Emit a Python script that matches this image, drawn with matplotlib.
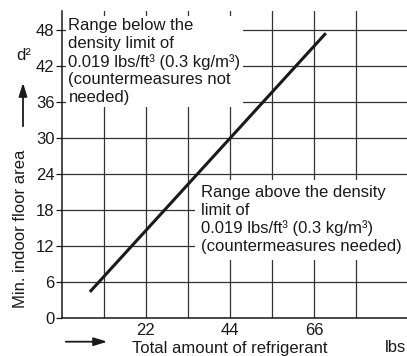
import matplotlib
matplotlib.use("Agg")
import matplotlib.pyplot as plt

plt.rcParams['font.family'] = ['Liberation Sans', 'DejaVu Sans']

# refrigerant charge (lbs) vs. minimum floor area (ft²)
charge_lbs = [7.3, 69.1]
floor_area = [4.3, 47.4]

x_grid = [11, 22, 33, 44, 55, 66, 77]
x_labels = ['', '22', '', '44', '', '66', '']
y_ticks = [0, 6, 12, 18, 24, 30, 36, 42, 48]

ink = '#1a1a1a'
fs = 12

fig = plt.figure(figsize=(4.07, 3.56), dpi=100)
ax = fig.add_axes([62 / 407, 38.3 / 356, 345 / 407, 306.7 / 356])
ax.set_xlim(0, 90.36)
ax.set_ylim(0, 51.1)

ax.set_xticks(x_grid)
ax.set_xticklabels(x_labels)
ax.set_yticks(y_ticks)
ax.tick_params(axis='x', length=0, pad=4, labelsize=fs, colors=ink)
ax.tick_params(axis='y', length=4, width=0.9, pad=1.5, labelsize=fs, colors=ink)
ax.grid(True, color='#333333', linewidth=0.9, zorder=1)
ax.set_axisbelow(True)

for side in ('top', 'right'):
    ax.spines[side].set_visible(False)
for side in ('left', 'bottom'):
    ax.spines[side].set_linewidth(1.1)
    ax.spines[side].set_color(ink)

ax.plot(charge_lbs, floor_area, color=ink, linewidth=2.2, solid_capstyle='butt', zorder=3)

box = dict(facecolor='white', edgecolor='none', pad=1.5)
ax.text(1.7, 49.9,
        'Range below the\ndensity limit of\n0.019 lbs/ft³ (0.3 kg/m³)\n(countermeasures not\nneeded)',
        ha='left', va='top', fontsize=fs, color=ink, linespacing=1.22,
        bbox=box, zorder=2)
ax.text(36.3, 22.1,
        'Range above the density\nlimit of\n0.019 lbs/ft³ (0.3 kg/m³)\n(countermeasures needed)',
        ha='left', va='top', fontsize=fs, color=ink, linespacing=1.22,
        bbox=dict(facecolor='white', edgecolor='none', pad=4), zorder=2)

# axis captions and direction arrows in figure pixels
W, H = 407, 356
fig.text(230 / W, 1 - 348 / H, 'Total amount of refrigerant', ha='center', va='center',
         fontsize=fs, color=ink)
fig.text(396 / W, 1 - 348 / H, 'lbs', ha='center', va='center', fontsize=fs, color=ink)
fig.text(21 / W, 1 - 229 / H, 'Min. indoor floor area', ha='center', va='center',
         rotation=90, fontsize=fs, color=ink)
fig.text(24 / W, 1 - 56 / H, 'd²', ha='center', va='center', fontsize=fs, color=ink)

arrow = dict(arrowstyle='-|>,head_length=0.8,head_width=0.25', color=ink, lw=1.3)
ax.annotate('', xy=(110 / W, 1 - 341.7 / H), xytext=(63 / W, 1 - 341.7 / H),
            xycoords='figure fraction', textcoords='figure fraction', arrowprops=arrow,
            annotation_clip=False)
ax.annotate('', xy=(23 / W, 1 - 80 / H), xytext=(23 / W, 1 - 129 / H),
            xycoords='figure fraction', textcoords='figure fraction', arrowprops=arrow,
            annotation_clip=False)

fig.savefig('out.png', dpi=100)
